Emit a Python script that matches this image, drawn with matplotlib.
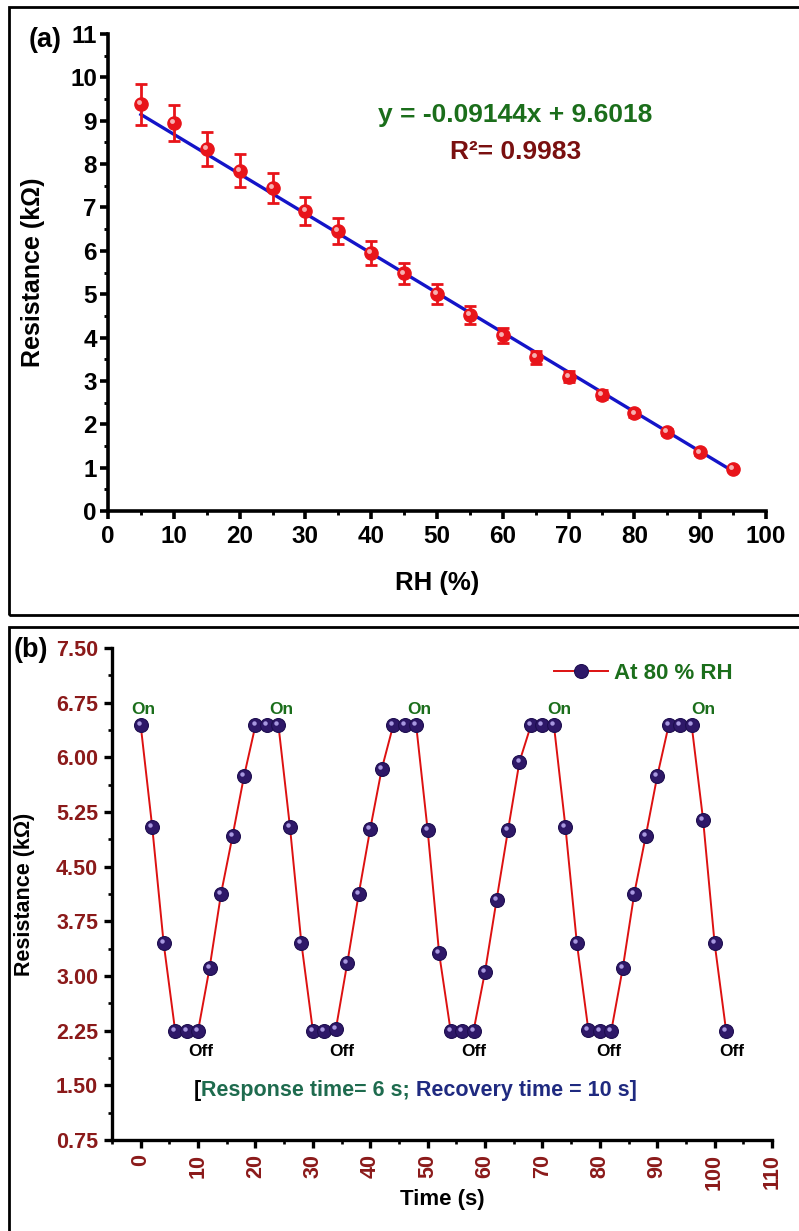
import numpy as np
import matplotlib
matplotlib.use('Agg')
import matplotlib.pyplot as plt
from matplotlib.patches import Rectangle
from matplotlib.transforms import offset_copy
from matplotlib.ticker import MultipleLocator, FormatStrFormatter

plt.rcParams['font.family'] = ['Liberation Sans', 'DejaVu Sans']
plt.rcParams['font.weight'] = 'bold'
plt.rcParams['axes.labelweight'] = 'bold'

# ---- (a) resistance vs relative humidity ----
rh = [5, 10, 15, 20, 25, 30, 35, 40, 45, 50, 55, 60, 65, 70, 75, 80, 85, 90, 95]
res = [9.38, 8.95, 8.35, 7.85, 7.45, 6.92, 6.45, 5.95, 5.48, 5.00,
       4.52, 4.05, 3.55, 3.10, 2.68, 2.25, 1.82, 1.35, 0.97]
res_err = [0.47, 0.42, 0.40, 0.38, 0.35, 0.33, 0.30, 0.28, 0.25, 0.23,
           0.20, 0.18, 0.15, 0.13, 0.10, 0.08, 0.06, 0.05, 0.04]
fit_slope = -0.09144
fit_intercept = 9.6018
r_squared = 0.9983

# ---- (b) response / recovery cycles at 80 % RH ----
time_s = [0, 2, 4, 6, 8, 10, 12, 14, 16, 18, 20, 22, 24, 26, 28, 30, 32, 34,
          36, 38, 40, 42, 44, 46, 48, 50, 52, 54, 56, 58, 60, 62, 64, 66, 68,
          70, 72, 74, 76, 78, 80, 82, 84, 86, 88, 90, 92, 94, 96, 98, 100, 102]
cycle_res = [6.44, 5.05, 3.45, 2.25, 2.25, 2.25, 3.11, 4.13, 4.92, 5.74,
             6.44, 6.44, 6.44, 5.05, 3.45, 2.25, 2.25, 2.27, 3.18, 4.13,
             5.02, 5.84, 6.44, 6.44, 6.44, 5.00, 3.31, 2.25, 2.25, 2.25,
             3.06, 4.04, 5.00, 5.94, 6.44, 6.44, 6.44, 5.05, 3.45, 2.26,
             2.25, 2.25, 3.11, 4.13, 4.92, 5.74, 6.44, 6.45, 6.44, 5.14,
             3.45, 2.25]
on_label_t = [0.5, 24.5, 48.5, 73, 98]
off_label_t = [10.5, 35, 58, 81.5, 103]

W, H = 799, 1231
fig = plt.figure(figsize=(W / 100, H / 100), dpi=100)

def fx(px):
    return px / W

def fy(py):
    return 1 - py / H

# panel frames
fig.add_artist(Rectangle((fx(9), fy(615)), 1.02 - fx(9), fy(7) - fy(615),
                         transform=fig.transFigure, fill=False, lw=2, ec='black'))
fig.add_artist(Rectangle((fx(9), -0.02), 1.02 - fx(9), fy(627) + 0.02,
                         transform=fig.transFigure, fill=False, lw=2, ec='black'))


def style_axes(ax, lw):
    for s in ['top', 'right']:
        ax.spines[s].set_visible(False)
    for s in ['left', 'bottom']:
        ax.spines[s].set_linewidth(lw)
    ax.tick_params(which='major', direction='out', length=6, width=lw)
    ax.tick_params(which='minor', direction='out', length=3, width=lw * 0.8)


# ---------------- panel (a) ----------------
ax1 = fig.add_axes([fx(108), fy(511), fx(766) - fx(108), fy(34) - fy(511)])
style_axes(ax1, 2.6)

xfit = np.array([rh[0], rh[-1]])
ax1.plot(xfit, fit_slope * xfit + fit_intercept, color='#1414C8', lw=2.4, zorder=2)
ax1.errorbar(rh, res, yerr=res_err, fmt='o', color='#E8141A', ms=9.5,
             ecolor='#E8141A', elinewidth=2.0, capsize=4, capthick=2.0, zorder=3)
hl1 = offset_copy(ax1.transData, fig=fig, x=-1.3, y=1.3, units='points')
ax1.plot(rh, res, 'o', ms=3.5, color='#F7B0B0', mec='none', transform=hl1, zorder=4)

ax1.set_xlim(0, 100)
ax1.set_ylim(0, 11)
ax1.xaxis.set_major_locator(MultipleLocator(10))
ax1.xaxis.set_minor_locator(MultipleLocator(5))
ax1.yaxis.set_major_locator(MultipleLocator(1))
ax1.yaxis.set_minor_locator(MultipleLocator(0.5))
ax1.tick_params(axis='both', which='major', labelsize=17.5)
ax1.tick_params(axis='x', which='major', pad=4)
ax1.tick_params(axis='y', which='major', pad=2)

ax1.set_xlabel('RH (%)', fontsize=18.5)
ax1.xaxis.set_label_coords(0.5, -0.125)
ax1.set_ylabel('Resistance (kΩ)', fontsize=18)
ax1.yaxis.set_label_coords(-0.096, 0.5)

ax1.text(0.619, 0.830, f'y = {fit_slope}x + {fit_intercept}', transform=ax1.transAxes,
         ha='center', va='center', fontsize=19, color='#1B6E1B')
ax1.text(0.619, 0.752, f'R\u00b2= {r_squared}', transform=ax1.transAxes,
         ha='center', va='center', fontsize=19, color='#7A1010')

fig.text(fx(29), fy(40), '(a)', fontsize=19.5, ha='left', va='center')

# ---------------- panel (b) ----------------
ax2 = fig.add_axes([fx(112), fy(1140), fx(772) - fx(112), fy(648) - fy(1140)])
style_axes(ax2, 2.4)

ax2.plot(time_s, cycle_res, '-o', color='#DD1111', lw=1.4, ms=10,
         mfc='#2E1868', mec='#1E0E50', mew=0.8, zorder=3, label='At 80 % RH')
hl2 = offset_copy(ax2.transData, fig=fig, x=-1.4, y=1.4, units='points')
ax2.plot(time_s, cycle_res, 'o', ms=3.2, color='#A898E0', mec='none',
         transform=hl2, zorder=4)

ax2.set_xlim(-5, 110)
ax2.set_ylim(0.75, 7.5)
ax2.xaxis.set_major_locator(MultipleLocator(10))
ax2.xaxis.set_minor_locator(MultipleLocator(5))
ax2.yaxis.set_major_locator(MultipleLocator(0.75))
ax2.yaxis.set_minor_locator(MultipleLocator(0.375))
ax2.yaxis.set_major_formatter(FormatStrFormatter('%.2f'))
ax2.tick_params(axis='both', which='major', labelsize=15.5, labelcolor='#8B1A1A')
ax2.tick_params(axis='x', which='major', labelrotation=90, pad=4)
ax2.tick_params(axis='y', which='major', pad=4)

ax2.set_xlabel('Time (s)', fontsize=16)
ax2.xaxis.set_label_coords(0.5, -0.100)
ax2.set_ylabel('Resistance (kΩ)', fontsize=15.5)
ax2.yaxis.set_label_coords(-0.117, 0.5)

for t in on_label_t:
    ax2.text(t, 6.66, 'On', ha='center', va='center', fontsize=12.5, color='#1B6E1B')
for t in off_label_t:
    ax2.text(t, 1.96, 'Off', ha='center', va='center', fontsize=12.5, color='black')

leg = ax2.legend(loc='center left', bbox_to_anchor=(0.67, 0.949), frameon=False,
                 fontsize=16, handlelength=2.4, handletextpad=0.3,
                 borderpad=0, borderaxespad=0)
for txt in leg.get_texts():
    txt.set_color('#1B6E1B')

t0 = ax2.text(0.124, 0.080, '[', transform=ax2.transAxes, ha='left', va='bottom',
              fontsize=15.5, color='black')
t1 = ax2.annotate('Response time= 6 s;', xy=(1, 0), xycoords=t0, ha='left',
                  va='bottom', fontsize=15.5, color='#1E6B4E')
t2 = ax2.annotate(' Recovery time = 10 s]', xy=(1, 0), xycoords=t1, ha='left',
                  va='bottom', fontsize=15.5, color='#1F2A80')

fig.text(fx(14), fy(650), '(b)', fontsize=19.5, ha='left', va='center')

fig.savefig('out.png', dpi=100)
